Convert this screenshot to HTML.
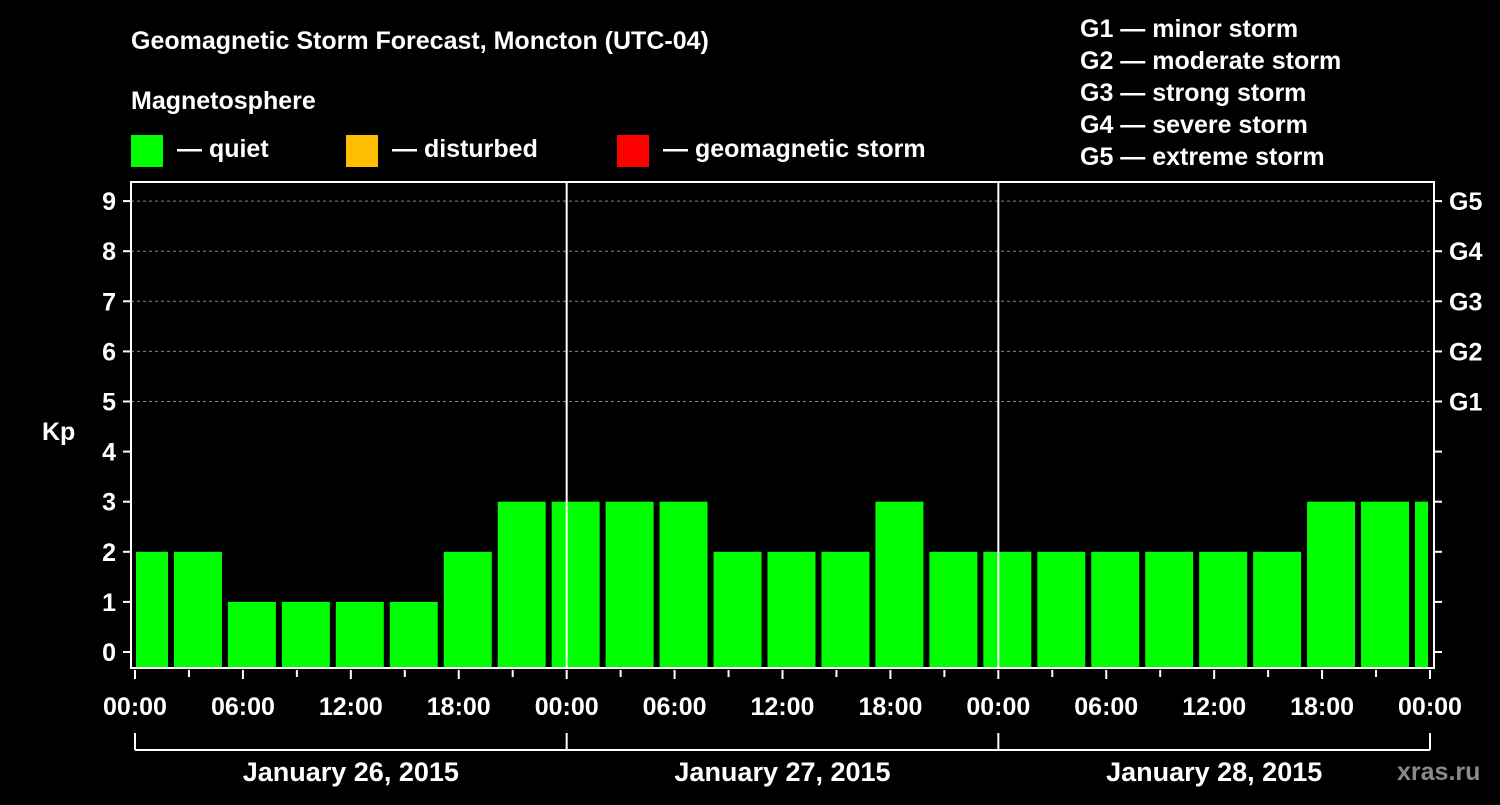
<!DOCTYPE html>
<html><head><meta charset="utf-8"><style>
body{margin:0;background:#000;width:1500px;height:800px;overflow:hidden}
svg text{font-family:"Liberation Sans",sans-serif;font-weight:bold;fill:#fff}
</style></head><body>
<svg id="c" width="1500" height="800">
<text x="131" y="49" font-size="25">Geomagnetic Storm Forecast, Moncton (UTC-04)</text>
<text x="131" y="109" font-size="25">Magnetosphere</text>
<rect x="131" y="135" width="32" height="32" fill="#00ff00"/>
<text x="177" y="157" font-size="25">— quiet</text>
<rect x="346" y="135" width="32" height="32" fill="#ffbf00"/>
<text x="392" y="157" font-size="25">— disturbed</text>
<rect x="617" y="135" width="32" height="32" fill="#ff0000"/>
<text x="663" y="157" font-size="25">— geomagnetic storm</text>
<g font-size="25">
<text x="1080" y="37">G1 — minor storm</text>
<text x="1080" y="69">G2 — moderate storm</text>
<text x="1080" y="101">G3 — strong storm</text>
<text x="1080" y="133">G4 — severe storm</text>
<text x="1080" y="165">G5 — extreme storm</text>
</g>
<text x="42" y="440" font-size="25">Kp</text>
<text x="1397" y="780" font-size="25" fill="#888" style="fill:#8a8a8a">xras.ru</text>
<g id="plot"></g>
</svg>
<script>
const kpValues=[2,2,1,1,1,1,2,3,3,3,3,2,2,2,3,2,2,2,2,2,2,2,3,3,3];
const yTicks=[0,1,2,3,4,5,6,7,8,9];
const gLabels=["G1","G2","G3","G4","G5"];
const gLevels=[5,6,7,8,9];
const xTickLabels=["00:00","06:00","12:00","18:00","00:00","06:00","12:00","18:00","00:00","06:00","12:00","18:00","00:00"];
const dayLabels=["January 26, 2015","January 27, 2015","January 28, 2015"];
const X0=135,X1=1430,HOURS=72,FIRST_OFFSET=2,STEP=3;
const xs=h=>X0+(X1-X0)*h/HOURS;
const ys=v=>652-50.1*v;
const ns="http://www.w3.org/2000/svg",g=document.getElementById('plot');
function mk(t,a){const e=document.createElementNS(ns,t);for(const k in a)e.setAttribute(k,a[k]);g.appendChild(e);return e;}
// grid
gLevels.forEach(v=>{const e=mk('line',{x1:131,x2:1434,y1:ys(v),y2:ys(v),stroke:'#888','stroke-dasharray':'3,3','stroke-width':1});

});
// bars
kpValues.forEach((v,i)=>{let h0=FIRST_OFFSET+(i-1)*STEP,h1=h0+STEP;
let a=Math.max(xs(h0)+3,X0+1),b=Math.min(xs(h1)-3,X1-2);
const e=mk('rect',{x:a,y:ys(v),width:b-a,height:668-ys(v),fill:v>=5?'#ff0000':(v>=4?'#ffbf00':'#00ff00')});

});
// frame
const fr=mk('rect',{x:131,y:182,width:1303,height:486,fill:'none',stroke:'#fff','stroke-width':2});


[24,48].forEach(h=>{const e=mk('line',{x1:xs(h),x2:xs(h),y1:182,y2:668,stroke:'#fff','stroke-width':2});

});
// y ticks
yTicks.forEach(v=>{mk('line',{x1:123,x2:131,y1:ys(v),y2:ys(v),stroke:'#fff','stroke-width':2});
mk('line',{x1:1434,x2:1442,y1:ys(v),y2:ys(v),stroke:'#fff','stroke-width':2});
const t=mk('text',{x:116,y:ys(v)+9,'font-size':25,'text-anchor':'end'});t.textContent=v;

});
gLabels.forEach((l,i)=>{const t=mk('text',{x:1449,y:ys(gLevels[i])+9,'font-size':25});t.textContent=l;

});
// x ticks
for(let h=0;h<=HOURS;h+=3){const maj=h%6==0;mk('line',{x1:xs(h),x2:xs(h),y1:670,y2:maj?679:677,stroke:'#fff','stroke-width':2});}
xTickLabels.forEach((l,i)=>{const t=mk('text',{x:xs(i*6),y:715,'font-size':25,'text-anchor':'middle'});t.textContent=l;

});
// day brackets
mk('line',{x1:X0,x2:X1,y1:750,y2:750,stroke:'#fff','stroke-width':2});
[0,24,48,72].forEach(h=>mk('line',{x1:xs(h),x2:xs(h),y1:733,y2:750,stroke:'#fff','stroke-width':2}));
dayLabels.forEach((l,i)=>{const t=mk('text',{x:xs(i*24+12),y:781,'font-size':27,'text-anchor':'middle'});t.textContent=l;

});
</script>
</body></html>
